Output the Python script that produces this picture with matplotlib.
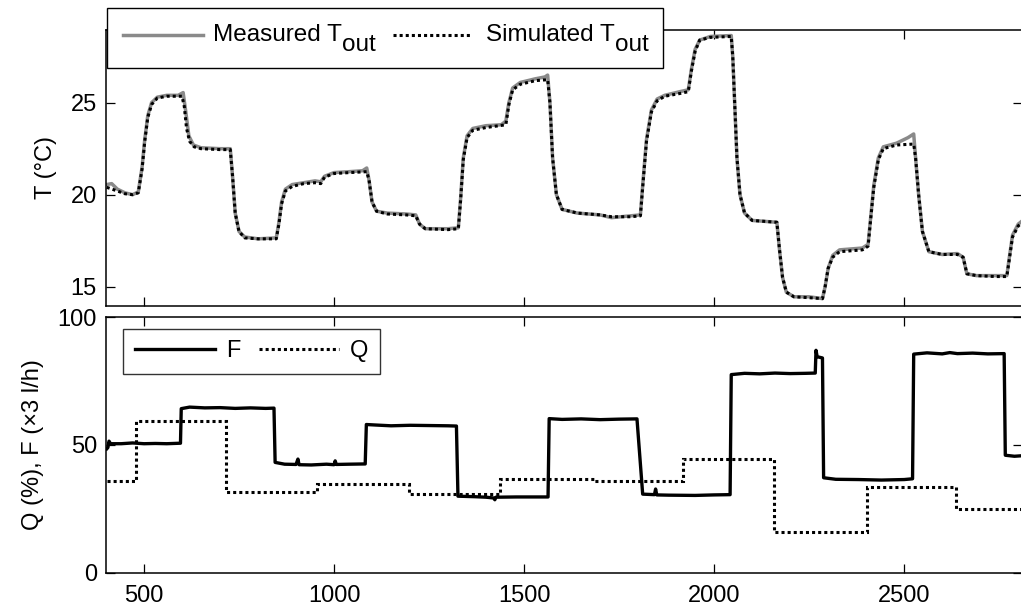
import matplotlib
matplotlib.use("Agg")
import matplotlib.pyplot as plt
from matplotlib.lines import Line2D
from matplotlib.patches import Rectangle
from matplotlib.transforms import IdentityTransform

plt.rcParams["font.family"] = ["Liberation Sans", "DejaVu Sans"]

# outlet temperature, measured (time, degC)
t_meas = [402, 415, 430, 450, 470, 485, 495, 502, 510, 520, 535, 560, 590, 603,
          610, 618, 630, 650, 700, 727, 733, 740, 750, 765, 800, 848, 855, 862,
          872, 890, 920, 950, 965, 975, 1000, 1040, 1075, 1086, 1092, 1100, 1112,
          1140, 1190, 1215, 1225, 1240, 1300, 1327, 1333, 1340, 1350, 1365, 1400,
          1440, 1452, 1460, 1470, 1490, 1530, 1555, 1562, 1568, 1575, 1585, 1600,
          1640, 1700, 1730, 1780, 1806, 1812, 1822, 1835, 1850, 1870, 1910, 1932,
          1940, 1950, 1962, 1990, 2045, 2049, 2054, 2060, 2068, 2080, 2100, 2165,
          2172, 2180, 2190, 2210, 2250, 2285, 2292, 2300, 2312, 2330, 2390, 2405,
          2412, 2420, 2432, 2445, 2480, 2510, 2525, 2530, 2538, 2548, 2565, 2600,
          2640, 2655, 2665, 2690, 2740, 2770, 2776, 2785, 2800, 2812]
T_meas = [20.55, 20.6, 20.3, 20.1, 20.0, 20.15, 21.5, 23.0, 24.3, 25.0, 25.3, 25.4, 25.4, 25.55,
          24.5, 23.2, 22.7, 22.55, 22.5, 22.5, 21.0, 19.0, 18.0, 17.7, 17.6, 17.65, 18.5, 19.6,
          20.3, 20.55, 20.65, 20.75, 20.7, 21.0, 21.2, 21.25, 21.3, 21.45, 20.8, 19.6, 19.1,
          19.0, 18.95, 18.9, 18.4, 18.15, 18.15, 18.2, 19.8, 22.0, 23.2, 23.6, 23.75,
          23.8, 24.0, 25.0, 25.8, 26.1, 26.3, 26.4, 26.5, 25.0, 22.0, 20.0, 19.2,
          19.0, 18.9, 18.75, 18.85, 18.9, 20.5, 23.0, 24.6, 25.2, 25.4, 25.6, 25.7,
          26.8, 27.9, 28.4, 28.6, 28.65, 27.5, 25.0, 22.0, 20.0, 19.0, 18.6, 18.5,
          17.0, 15.5, 14.7, 14.45, 14.45, 14.35, 15.0, 16.0, 16.7, 17.0, 17.1, 17.3,
          18.8, 20.5, 22.0, 22.6, 22.8, 23.1, 23.3, 22.0, 20.0, 18.0, 16.9, 16.75,
          16.8, 16.6, 15.7, 15.6, 15.6, 15.6, 16.5, 17.8, 18.4, 18.6]

# outlet temperature, model output
t_sim = [402, 430, 450, 470, 485, 495, 502, 510, 520, 535, 560, 600, 606,
         612, 620, 632, 650, 700, 727, 733, 740, 750, 765, 800, 848, 855, 862,
         872, 890, 920, 950, 965, 975, 1000, 1040, 1086, 1092, 1100, 1112,
         1140, 1190, 1215, 1225, 1240, 1300, 1327, 1333, 1340, 1350, 1365, 1400,
         1452, 1460, 1470, 1490, 1530, 1562, 1568, 1575, 1585, 1600,
         1640, 1700, 1730, 1780, 1806, 1812, 1822, 1835, 1850, 1870, 1910, 1932,
         1940, 1950, 1962, 1990, 2045, 2049, 2054, 2060, 2068, 2080, 2100, 2165,
         2172, 2180, 2190, 2210, 2250, 2285, 2292, 2300, 2312, 2330, 2390, 2405,
         2412, 2420, 2432, 2445, 2480, 2525, 2530, 2538, 2548, 2565, 2600,
         2640, 2655, 2665, 2690, 2740, 2770, 2776, 2785, 2800, 2812]
T_sim = [20.4, 20.2, 20.05, 20.0, 20.1, 21.4, 22.9, 24.2, 24.9, 25.25, 25.35, 25.35, 24.8,
         23.6, 22.9, 22.6, 22.5, 22.45, 22.45, 21.0, 19.0, 18.0, 17.65, 17.6, 17.6, 18.4, 19.5,
         20.2, 20.45, 20.6, 20.65, 20.6, 20.95, 21.15, 21.2, 21.25, 20.8, 19.6, 19.1,
         18.95, 18.9, 18.85, 18.4, 18.15, 18.1, 18.15, 19.7, 21.9, 23.1, 23.5, 23.65,
         23.8, 24.9, 25.7, 26.0, 26.2, 26.25, 25.0, 22.0, 20.0, 19.2,
         19.0, 18.9, 18.8, 18.8, 18.85, 20.4, 22.9, 24.5, 25.1, 25.35, 25.5, 25.6,
         26.7, 27.8, 28.4, 28.55, 28.6, 27.5, 25.0, 22.0, 20.0, 19.0, 18.6, 18.5,
         17.0, 15.5, 14.7, 14.45, 14.4, 14.35, 15.0, 16.0, 16.6, 16.9, 17.0, 17.2,
         18.7, 20.4, 21.9, 22.5, 22.7, 22.75, 22.0, 20.0, 18.0, 16.9, 16.75,
         16.75, 16.6, 15.7, 15.6, 15.55, 15.55, 16.4, 17.7, 18.3, 18.5]

# flow rate F (x3 l/h)
t_F = [402, 405, 408, 412, 440, 470, 500, 530, 560, 596, 598, 620, 660, 700, 740,
       780, 820, 842, 845, 870, 900, 905, 908, 940, 980, 1000, 1003, 1006, 1040,
       1082, 1085, 1110, 1150, 1200, 1250, 1300, 1322, 1326, 1370, 1400, 1420,
       1423, 1426, 1480, 1540, 1563, 1566, 1600, 1650, 1700, 1750, 1797, 1812,
       1843, 1846, 1849, 1880, 1950, 2000, 2042, 2045, 2080, 2120, 2160, 2200,
       2240, 2266, 2268, 2271, 2285, 2288, 2320, 2380, 2440, 2500, 2522, 2525,
       2560, 2600, 2620, 2640, 2680, 2720, 2763, 2766, 2790, 2810]
F = [48.5, 49.0, 51.5, 50.5, 50.5, 50.8, 50.5, 50.6, 50.5, 50.7, 64.2, 64.8, 64.5, 64.6, 64.3,
     64.5, 64.3, 64.4, 43.2, 42.5, 42.4, 44.5, 42.3, 42.2, 42.5, 42.3, 43.8, 42.4, 42.5,
     42.6, 58.0, 57.8, 57.5, 57.7, 57.6, 57.5, 57.4, 30.0, 29.8, 29.6, 29.3,
     28.6, 29.6, 29.7, 29.7, 29.7, 60.3, 60.0, 60.2, 59.9, 60.1, 60.2, 30.8,
     30.6, 32.8, 30.5, 30.4, 30.3, 30.5, 30.6, 77.5, 78.0, 77.8, 78.1, 77.9,
     78.0, 78.1, 87.0, 84.5, 84.0, 37.2, 36.6, 36.5, 36.3, 36.5, 36.8, 85.5,
     86.0, 85.6, 86.1, 85.7, 85.9, 85.6, 85.7, 46.0, 45.6, 45.8]

# heating power Q (%), piecewise constant
Q_edges = [402, 478, 715, 956, 1197, 1437, 1684, 1917, 2158, 2401, 2636, 2812]
Q_levels = [35.9, 59.5, 31.5, 34.8, 30.7, 36.7, 35.9, 44.5, 15.9, 33.7, 25.0]

GRAY = "#8a8a8a"
DOT = (0, (1.0, 1.0))
FS = 17
W, H = 1021, 610

fig = plt.figure(figsize=(W / 100, H / 100), dpi=100)
ax1 = fig.add_axes([0.1038, 0.4984, 0.8972, 0.4524])
ax2 = fig.add_axes([0.1038, 0.0607, 0.8972, 0.4196])

ax1.plot(t_meas, T_meas, color=GRAY, lw=2.5, solid_joinstyle="round")
ax1.plot(t_sim, T_sim, color="black", lw=2.2, linestyle=DOT)
ax1.set_xlim(400, 2810)
ax1.set_ylim(13.95, 28.95)
ax1.set_yticks([15, 20, 25])
ax1.set_xticks([500, 1000, 1500, 2000, 2500])
ax1.set_xticklabels([])
ax1.set_ylabel("T (°C)", fontsize=FS, labelpad=10)

ax2.plot(t_F, F, color="black", lw=2.4)
ax2.stairs(Q_levels, Q_edges, color="black", lw=2.2, linestyle=DOT, baseline=None)
ax2.set_xlim(400, 2810)
ax2.set_ylim(0, 100)
ax2.set_yticks([0, 50, 100])
ax2.set_xticks([500, 1000, 1500, 2000, 2500])
ax2.set_ylabel("Q (%), F (×3 l/h)", fontsize=FS, labelpad=10)

for ax in (ax1, ax2):
    ax.tick_params(direction="in", length=6.5, width=0.9, top=True, right=True,
                   labelsize=FS)
    ax.tick_params(axis="y", pad=6.5)
    ax.tick_params(axis="x", pad=9)
    for sp in ax.spines.values():
        sp.set_linewidth(1.1)

# temperature legend, drawn by hand so the subscript keeps full size
px = IdentityTransform()
fig.add_artist(Rectangle((107, H - 68), 556, 60, transform=px, facecolor="white",
                         edgecolor="black", lw=1.0, zorder=5))
fig.add_artist(Line2D([123, 203], [H - 35, H - 35], transform=px, color=GRAY,
                      lw=2.5, zorder=6))
fig.add_artist(Line2D([393, 470], [H - 35, H - 35], transform=px, color="black",
                      lw=2.2, linestyle=DOT, zorder=6))
renderer = fig.canvas.get_renderer()
for x0, name in [(213, "Measured T"), (486, "Simulated T")]:
    txt = fig.text(x0, H - 41, name, transform=px, fontsize=17.5,
                   va="baseline", ha="left", zorder=7)
    x1 = txt.get_window_extent(renderer).x1
    fig.text(x1 + 0.5, H - 51, "out", transform=px, fontsize=17.5,
             va="baseline", ha="left", zorder=7)

h2 = [Line2D([], [], color="black", lw=2.4),
      Line2D([], [], color="black", lw=2.2, linestyle=DOT)]
leg2 = ax2.legend(h2, ["F", "Q"], loc="upper left", bbox_to_anchor=(0.0187, 0.955),
                  ncol=2, fontsize=FS, frameon=True, fancybox=False,
                  handlelength=3.4, handletextpad=0.45, columnspacing=0.8,
                  borderaxespad=0, borderpad=0.5)
leg2.get_frame().set_edgecolor("black")
leg2.get_frame().set_linewidth(1.0)

fig.savefig("out.png", dpi=100)
